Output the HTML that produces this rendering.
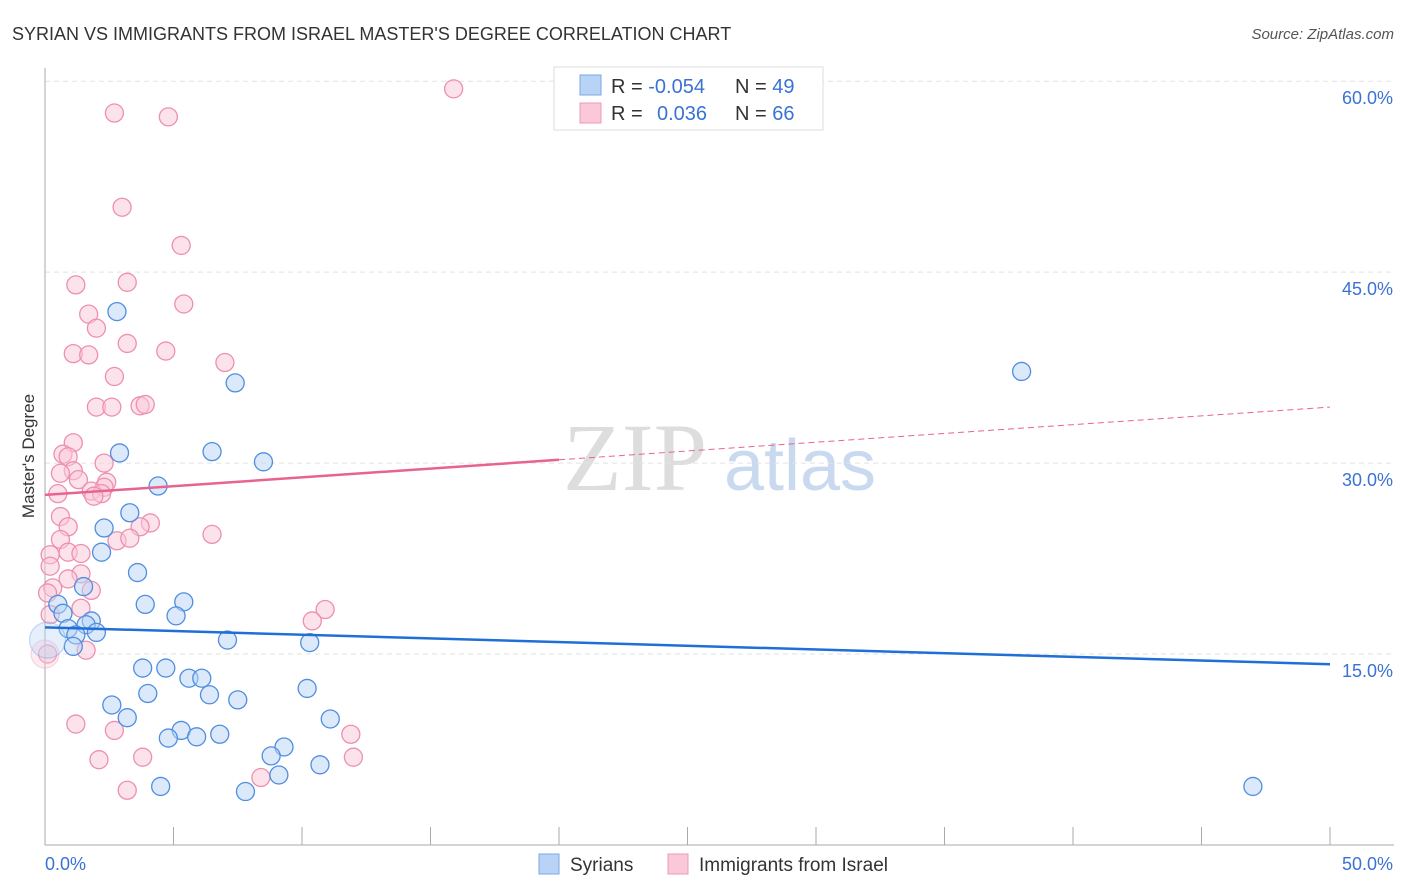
<!DOCTYPE html>
<html><head><meta charset="utf-8"><style>
body{margin:0;background:#fff;font-family:"Liberation Sans",sans-serif;}
svg{display:block}
</style></head><body>
<svg id="chart" width="1406" height="892" xmlns="http://www.w3.org/2000/svg" font-family="Liberation Sans, sans-serif">
<text x="12" y="40" font-size="18" fill="#333">SYRIAN VS IMMIGRANTS FROM ISRAEL MASTER'S DEGREE CORRELATION CHART</text>
<text x="1394" y="39" font-size="15" fill="#555" font-style="italic" text-anchor="end">Source: ZipAtlas.com</text>
<text transform="translate(34,456) rotate(-90)" font-size="17" fill="#333" text-anchor="middle">Master's Degree</text>
<g>
<text x="635" y="490" font-size="96" fill="#ddd" font-family="Liberation Serif, serif" text-anchor="middle">ZIP</text>
<text x="800" y="490" font-size="72" fill="#c9daf0" text-anchor="middle">atlas</text>
</g>
<g id="grid"></g><g id="axes"></g><g id="marks"></g>
<g>
<rect x="554" y="67" width="269" height="63" fill="#fff" stroke="#ddd"/>
<rect x="580" y="75" width="21" height="20" fill="#b8d3f5" stroke="#7aa8e8"/>
<rect x="580" y="103" width="21" height="20" fill="#fac8d8" stroke="#ee9ab5"/>
<text x="611" y="93" font-size="20" fill="#333">R = <tspan fill="#3a72d4">-0.054</tspan></text>
<text x="735" y="93" font-size="20" fill="#333">N = <tspan fill="#3a72d4">49</tspan></text>
<text x="611" y="120" font-size="20" fill="#333">R = <tspan fill="#3a72d4" x="657">0.036</tspan></text>
<text x="735" y="120" font-size="20" fill="#333">N = <tspan fill="#3a72d4">66</tspan></text>
</g>
<g>
<rect x="539" y="854" width="20" height="20" fill="#b8d3f5" stroke="#7aa8e8"/>
<text x="570" y="871" font-size="19" fill="#333">Syrians</text>
<rect x="668" y="854" width="20" height="20" fill="#fac8d8" stroke="#ee9ab5"/>
<text x="699" y="871" font-size="19" fill="#333">Immigrants from Israel</text>
</g>
</svg>
<script>
const syrX=[2.8,7.4,38.0,2.9,6.5,8.5,4.4,3.3,2.3,2.2,3.6,1.5,3.9,5.4,5.1,0.5,0.7,1.8,0.9,1.6,2.0,1.2,1.1,7.1,10.3,3.8,4.7,5.6,6.1,4.0,6.4,7.5,10.2,2.6,3.2,5.3,4.8,5.9,6.8,11.1,9.3,8.8,10.7,9.1,4.5,7.8,47.0,0.1];
const syrY=[41.9,36.3,37.2,30.8,30.9,30.1,28.2,26.1,24.9,23.0,21.4,20.3,18.9,19.1,18.0,18.9,18.2,17.6,17.0,17.3,16.7,16.5,15.6,16.1,15.9,13.9,13.9,13.1,13.1,11.9,11.8,11.4,12.3,11.0,10.0,9.0,8.4,8.5,8.7,9.9,7.7,7.0,6.3,5.5,4.6,4.2,4.6,16.1];
const isrX=[15.9,2.7,4.8,3.0,5.3,3.2,1.2,5.4,1.7,2.0,3.2,1.1,1.7,4.7,7.0,2.7,2.0,2.6,3.7,3.9,1.1,0.7,0.9,2.3,1.1,0.6,1.3,2.4,2.3,0.5,1.8,2.2,1.9,0.6,0.9,4.1,3.7,2.8,3.3,0.6,6.5,0.2,0.9,1.4,0.2,1.4,0.9,0.3,1.8,0.1,1.4,10.9,10.4,0.2,1.6,0.1,1.2,2.7,11.9,2.1,3.8,12.0,8.4,3.2,0.0];
const isrY=[59.4,57.5,57.2,50.1,47.1,44.2,44.0,42.5,41.7,40.6,39.4,38.6,38.5,38.8,37.9,36.8,34.4,34.4,34.5,34.6,31.6,30.7,30.5,30.0,29.4,29.2,28.7,28.5,28.1,27.6,27.8,27.6,27.4,25.8,25.0,25.3,25.0,23.9,24.1,24.0,24.4,22.8,23.0,22.9,21.9,21.3,20.9,20.2,20.0,19.8,18.6,18.5,17.6,18.1,15.3,15.0,9.5,9.0,8.7,6.7,6.9,6.9,5.3,4.3,15.0];
const yTicks=[15,30,45,60];
const yTickLabels=["15.0%","30.0%","45.0%","60.0%"];
const xTickLabels=["0.0%","50.0%"];
const syrTrend=[17.1,14.2];
const isrTrend=[27.5,34.4];
const isrSolidEnd=20;
const xs=v=>45+v*25.7, ys=v=>845-v*12.73;
const NS="http://www.w3.org/2000/svg";
function mk(tag,parent,attrs){const e=document.createElementNS(NS,tag);for(const k in attrs)e.setAttribute(k,attrs[k]);parent.appendChild(e);return e;}
const grid=document.getElementById('grid'),axes=document.getElementById('axes'),marks=document.getElementById('marks');
yTicks.forEach((t,i)=>{
 const l=mk('line',grid,{x1:45,x2:1394,y1:ys(t),y2:ys(t),stroke:'#e2e2e2','stroke-dasharray':'5,4'});
 
 
 const tx=mk('text',axes,{x:1393,y:ys(t)+23,'font-size':18,fill:'#3a72d4','text-anchor':'end'});
 tx.textContent=yTickLabels[i];
 
 
});
const ya=mk('line',axes,{x1:45,x2:45,y1:68,y2:845,stroke:'#aaa'});


const xa=mk('line',axes,{x1:45,x2:1394,y1:845,y2:845,stroke:'#aaa'});


for(let i=0;i<=10;i++){const t=mk('line',axes,{x1:xs(i*5),x2:xs(i*5),y1:827,y2:845,stroke:'#aaa'});
 
 }
[[0,'start',45],[50,'end',1393]].forEach((d,i)=>{const t=mk('text',axes,{x:d[2],y:870,'font-size':18,fill:'#3a72d4','text-anchor':d[1]});t.textContent=xTickLabels[i];
 
 });
function pts(X,Y,fill,stroke,name){X.forEach((x,i)=>{const last=i===X.length-1;const c=mk('circle',marks,{cx:xs(x),cy:ys(Y[i]),r:last?(name==='syrian-point'?18:14):9,fill:fill,'fill-opacity':last?0.35:0.5,stroke:stroke,'stroke-opacity':last?0.3:1,'stroke-width':1.3});
 
 });}
pts(isrX,isrY,'#fac8d8','#ee8fb0','israel-point');
pts(syrX,syrY,'#b8d3f5','#4f8ee0','syrian-point');
const isrAt=v=>isrTrend[0]+(isrTrend[1]-isrTrend[0])*v/50;
const l1=mk('line',marks,{x1:xs(0),y1:ys(isrTrend[0]),x2:xs(isrSolidEnd),y2:ys(isrAt(isrSolidEnd)),stroke:'#e8638e','stroke-width':2.5});


const l2=mk('line',marks,{x1:xs(isrSolidEnd),y1:ys(isrAt(isrSolidEnd)),x2:xs(50),y2:ys(isrTrend[1]),stroke:'#e8638e','stroke-width':1,'stroke-dasharray':'6,4'});


const l3=mk('line',marks,{x1:xs(0),y1:ys(syrTrend[0]),x2:xs(50),y2:ys(syrTrend[1]),stroke:'#1f6fd6','stroke-width':2.5});


</script>
</body></html>
